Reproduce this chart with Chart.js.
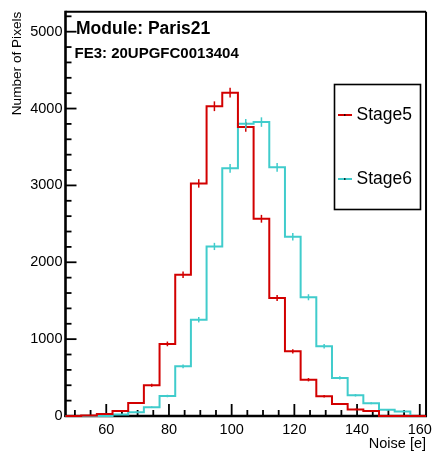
<!DOCTYPE html>
<html>
<head>
<meta charset="utf-8">
<script src="https://cdn.jsdelivr.net/npm/chart.js@4"></script>
<style>
  body { margin: 0; background: #fff; }
</style>
</head>
<body>
<canvas id="mycanvas" width="437" height="455"></canvas>
<script>
// histogram bins (lower edges), 5 e wide
var binLow = [47, 52, 57, 62, 67, 72, 77, 82, 87, 92, 97, 102, 107, 112, 117, 122, 127, 132, 137, 142, 147, 152, 157];
var binWidth = 5;
var stage5 = [0, 8, 26, 64, 170, 400, 938, 1837, 3026, 4030, 4207, 3760, 2566, 1536, 841, 472, 258, 155, 86, 64, 0, 0, 0];
var stage6 = [0, 0, 0, 21, 50, 114, 260, 646, 1253, 2206, 3223, 3802, 3824, 3236, 2331, 1545, 908, 496, 270, 167, 80, 58, 0];
var seriesNames = ['Stage5', 'Stage6'];
var xTickValues = [60, 80, 100, 120, 140, 160];
var yTickValues = [0, 1000, 2000, 3000, 4000, 5000];
var moduleLabel = 'Module: Paris21';
var feLabel = 'FE3: 20UPGFC0013404';

var xMin = 47, xMax = 162, xMinor = 5;
var yMin = 0, yMax = 5260, yMinor = 200;

var FONT = 'Liberation Sans, Arial, Helvetica, sans-serif';
var colors = ['#d20000', '#40cccc'];

function histPoints(counts) {
    var pts = [];
    for (var i = 0; i < counts.length; i++) {
        pts.push({x: binLow[i], y: counts[i]});
    }
    pts.push({x: binLow[binLow.length - 1] + binWidth, y: counts[counts.length - 1]});
    return pts;
}

function line(ctx, x1, y1, x2, y2) {
    ctx.beginPath();
    ctx.moveTo(x1, y1);
    ctx.lineTo(x2, y2);
    ctx.stroke();
}

function isMajor(v, list) {
    return list.indexOf(v) !== -1;
}

var rootStyle = {
    id: 'rootStyle',
    beforeDatasetsDraw: function(chart) {
        var ctx = chart.ctx, a = chart.chartArea;
        var xs = chart.scales.x, ys = chart.scales.y;
        ctx.save();
        ctx.strokeStyle = '#000';
        // frame
        ctx.lineWidth = 2;
        line(ctx, a.left, a.top, a.right, a.top);
        line(ctx, a.right, a.top, a.right, a.bottom);
        ctx.lineWidth = 2.6;
        line(ctx, a.left, a.top - 1, a.left, a.bottom + 1);
        line(ctx, a.left - 1, a.bottom, a.right + 1, a.bottom);
        // ticks, inside the frame
        ctx.lineWidth = 1.8;
        for (var v = yMin + yMinor; v <= yMax; v += yMinor) {
            var y = ys.getPixelForValue(v);
            line(ctx, a.left, y, a.left + (isMajor(v, yTickValues) ? 11 : 6), y);
        }
        for (var u = Math.ceil(xMin / xMinor) * xMinor; u < xMax; u += xMinor) {
            var x = xs.getPixelForValue(u);
            line(ctx, x, a.bottom, x, a.bottom - (isMajor(u, xTickValues) ? 12 : 6));
        }
        ctx.restore();
    },
    afterDatasetsDraw: function(chart) {
        var ctx = chart.ctx;
        var xs = chart.scales.x, ys = chart.scales.y;
        ctx.save();
        // error bars
        chart.data.datasets.forEach(function(ds, k) {
            var counts = k === 0 ? stage5 : stage6;
            ctx.strokeStyle = ds.borderColor;
            ctx.lineWidth = 1.5;
            for (var i = 0; i < counts.length; i++) {
                if (counts[i] <= 0) continue;
                var e = Math.sqrt(counts[i]);
                var x = xs.getPixelForValue(binLow[i] + binWidth / 2);
                line(ctx, x, ys.getPixelForValue(counts[i] - e), x, ys.getPixelForValue(counts[i] + e));
            }
        });
        // labels
        ctx.fillStyle = '#000';
        ctx.textBaseline = 'alphabetic';
        ctx.textAlign = 'left';
        ctx.font = 'bold 17.5px ' + FONT;
        ctx.fillText(moduleLabel, 76, 34);
        ctx.font = 'bold 15px ' + FONT;
        ctx.fillText(feLabel, 74.5, 58);
        // legend box
        ctx.strokeStyle = '#000';
        ctx.lineWidth = 1.6;
        ctx.strokeRect(334.5, 84.5, 86, 125);
        ctx.font = '17.5px ' + FONT;
        ctx.textBaseline = 'middle';
        var rows = [115, 179];
        chart.data.datasets.forEach(function(ds, k) {
            ctx.strokeStyle = ds.borderColor;
            ctx.lineWidth = 2;
            line(ctx, 338, rows[k], 352, rows[k]);
            ctx.fillStyle = '#000';
            ctx.fillRect(344, rows[k] - 0.75, 1.5, 1.5);
            ctx.fillText(ds.label, 356.5, rows[k]);
        });
        ctx.restore();
    }
};

var tickFont = {family: FONT, size: 14.5};

new Chart(document.getElementById('mycanvas'), {
    type: 'line',
    data: {
        datasets: [
            {label: seriesNames[0], data: histPoints(stage5), borderColor: colors[0]},
            {label: seriesNames[1], data: histPoints(stage6), borderColor: colors[1]}
        ]
    },
    options: {
        responsive: false,
        animation: false,
        devicePixelRatio: 1,
        layout: {padding: {left: 0, right: 8, top: 7.5, bottom: 0}},
        datasets: {
            line: {stepped: 'before', borderWidth: 2, pointRadius: 0, fill: false, clip: false, tension: 0}
        },
        plugins: {legend: {display: false}, tooltip: {enabled: false}},
        scales: {
            x: {
                type: 'linear',
                min: xMin,
                max: xMax,
                grid: {display: false, drawTicks: false},
                border: {display: false},
                ticks: {padding: 5, color: '#000', font: tickFont, maxRotation: 0, autoSkip: false,
                        callback: function(v) { return String(v); }},
                afterBuildTicks: function(s) {
                    s.ticks = xTickValues.map(function(v) { return {value: v}; });
                },
                title: {display: true, text: 'Noise [e]', align: 'end', color: '#000',
                        font: {family: FONT, size: 14.5}, padding: {top: 0, bottom: 2}},
                afterFit: function(s) { s.height = 39; }
            },
            y: {
                type: 'linear',
                min: yMin,
                max: yMax,
                grid: {display: false, drawTicks: false},
                border: {display: false},
                ticks: {padding: 3, color: '#000', font: tickFont, autoSkip: false,
                        callback: function(v) { return String(v); }},
                afterBuildTicks: function(s) {
                    s.ticks = yTickValues.map(function(v) { return {value: v}; });
                },
                title: {display: true, text: 'Number of Pixels', align: 'end', color: '#000',
                        font: {family: FONT, size: 13.6}, padding: {top: 9, bottom: 0}},
                afterFit: function(s) { s.width = 65.5; }
            }
        }
    },
    plugins: [rootStyle]
});
</script>
</body>
</html>
